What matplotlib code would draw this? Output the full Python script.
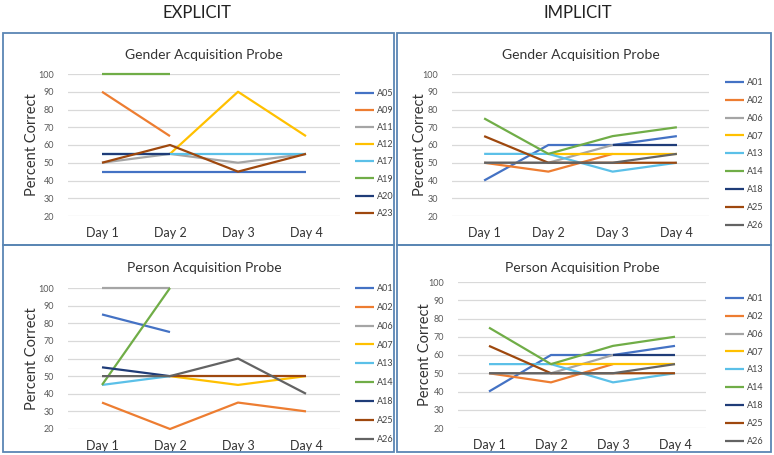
import numpy as np
import matplotlib
matplotlib.use("Agg")
import matplotlib.pyplot as plt
from matplotlib.patches import Rectangle

nan = np.nan
days = ["Day 1", "Day 2", "Day 3", "Day 4"]

# explicit - gender
exp_gender_ids = ["A05", "A09", "A11", "A12", "A17", "A19", "A20", "A23"]
exp_gender = [
    [45, 45, 45, 45],
    [90, 65, nan, nan],
    [50, 55, 50, 55],
    [nan, 55, 90, 65],
    [55, 55, 55, 55],
    [100, 100, nan, nan],
    [55, 55, nan, nan],
    [50, 60, 45, 55],
]

# explicit - person
exp_person_ids = ["A01", "A02", "A06", "A07", "A13", "A14", "A18", "A25", "A26"]
exp_person = [
    [85, 75, nan, nan],
    [35, 20, 35, 30],
    [100, 100, nan, nan],
    [nan, 50, 45, 50],
    [45, 50, nan, nan],
    [45, 100, nan, nan],
    [55, 50, nan, nan],
    [nan, 50, 50, 50],
    [50, 50, 60, 40],
]

# implicit - gender and person (same values)
imp_ids = ["A01", "A02", "A06", "A07", "A13", "A14", "A18", "A25", "A26"]
imp_gender = [
    [40, 60, 60, 65],
    [50, 45, 55, nan],
    [50, 50, 60, nan],
    [nan, 55, 55, 55],
    [55, 55, 45, 50],
    [75, 55, 65, 70],
    [nan, nan, 60, 60],
    [65, 50, 50, 50],
    [50, 50, 50, 55],
]
imp_person = [
    [40, 60, 60, 65],
    [50, 45, 55, nan],
    [50, 50, 60, nan],
    [nan, 55, 55, 55],
    [55, 55, 45, 50],
    [75, 55, 65, 70],
    [nan, nan, 60, 60],
    [65, 50, 50, 50],
    [50, 50, 50, 55],
]

palette = ["#4472C4", "#ED7D31", "#A5A5A5", "#FFC000", "#5BC0E8",
           "#70AD47", "#1F3C78", "#9E480E", "#636363"]
gender_colors_exp = ["#4472C4", "#ED7D31", "#A5A5A5", "#FFC000", "#5BC0E8",
                     "#70AD47", "#1F3C78", "#9E480E"]

plt.rcParams['font.family'] = ['Lato', 'DejaVu Sans']

W, H = 774, 455
fig = plt.figure(figsize=(W / 100, H / 100), dpi=100)


def fx(x):
    return x / W


def fy(y):
    return 1 - y / H


# panel borders
for (x0, y0, w, h) in [(3, 33, 391, 212), (397, 33, 374, 212),
                       (3, 245, 391, 207), (397, 245, 374, 207)]:
    fig.patches.append(Rectangle((fx(x0), fy(y0 + h)), w / W, h / H,
                                 transform=fig.transFigure, fill=False,
                                 edgecolor="#5a86b4", lw=1.3))

fig.text(fx(197), fy(13), "EXPLICIT", ha="center", va="center", fontsize=12, color="#222222")
fig.text(fx(578), fy(13), "IMPLICIT", ha="center", va="center", fontsize=12, color="#222222")


def panel(box, title, title_y, ylab_x, ids, data, colors, leg_x, leg_y, leg_sp):
    x0, x1, ytop, ybot = box
    ax = fig.add_axes([fx(x0), fy(ybot), (x1 - x0) / W, (ybot - ytop) / H])
    x = np.arange(len(days))
    for sid, vals, c in zip(ids, data, colors):
        ax.plot(x, vals, color=c, lw=1.6, label=sid, solid_capstyle="butt",
                clip_on=False)
    ax.set_xlim(-0.5, 3.5)
    ax.set_ylim(20, 100)
    ax.set_yticks(range(20, 101, 10))
    ax.set_xticks(x)
    ax.set_xticklabels(days)
    ax.grid(axis="y", color="#d9d9d9", lw=0.9)
    ax.set_axisbelow(True)
    for s in ax.spines.values():
        s.set_visible(False)
    ax.tick_params(axis="y", length=0, pad=10, labelsize=6.5, labelcolor="#595959")
    ax.tick_params(axis="x", length=0, pad=8, labelsize=9, labelcolor="#333333")
    fig.text(fx((x0 + x1) / 2), fy(title_y), title, ha="center", va="center",
             fontsize=10, color="#333333")
    fig.text(fx(ylab_x), fy((ytop + ybot) / 2), "Percent Correct", rotation=90,
             ha="center", va="center", fontsize=10.5, color="#333333")
    ax.legend(loc="upper left", bbox_to_anchor=(fx(leg_x), fy(leg_y)),
              bbox_transform=fig.transFigure, frameon=False, fontsize=6.5,
              labelspacing=leg_sp, handlelength=2.1, handletextpad=0.3,
              borderpad=0, borderaxespad=0, labelcolor="#444444")
    return ax


panel((68, 340, 74, 216), "Gender Acquisition Probe", 55, 32,
      exp_gender_ids, exp_gender, gender_colors_exp, 355, 89, 0.9)
panel((452, 709, 74, 216), "Gender Acquisition Probe", 55, 420,
      imp_ids, imp_gender, palette, 725, 78, 0.98)
panel((68, 340, 288, 429), "Person Acquisition Probe", 268, 32,
      exp_person_ids, exp_person, palette, 355, 284, 1.09)
panel((458, 706, 282, 428), "Person Acquisition Probe", 268, 425,
      imp_ids, imp_person, palette, 725, 294, 0.98)

fig.savefig("out.png", dpi=100)
